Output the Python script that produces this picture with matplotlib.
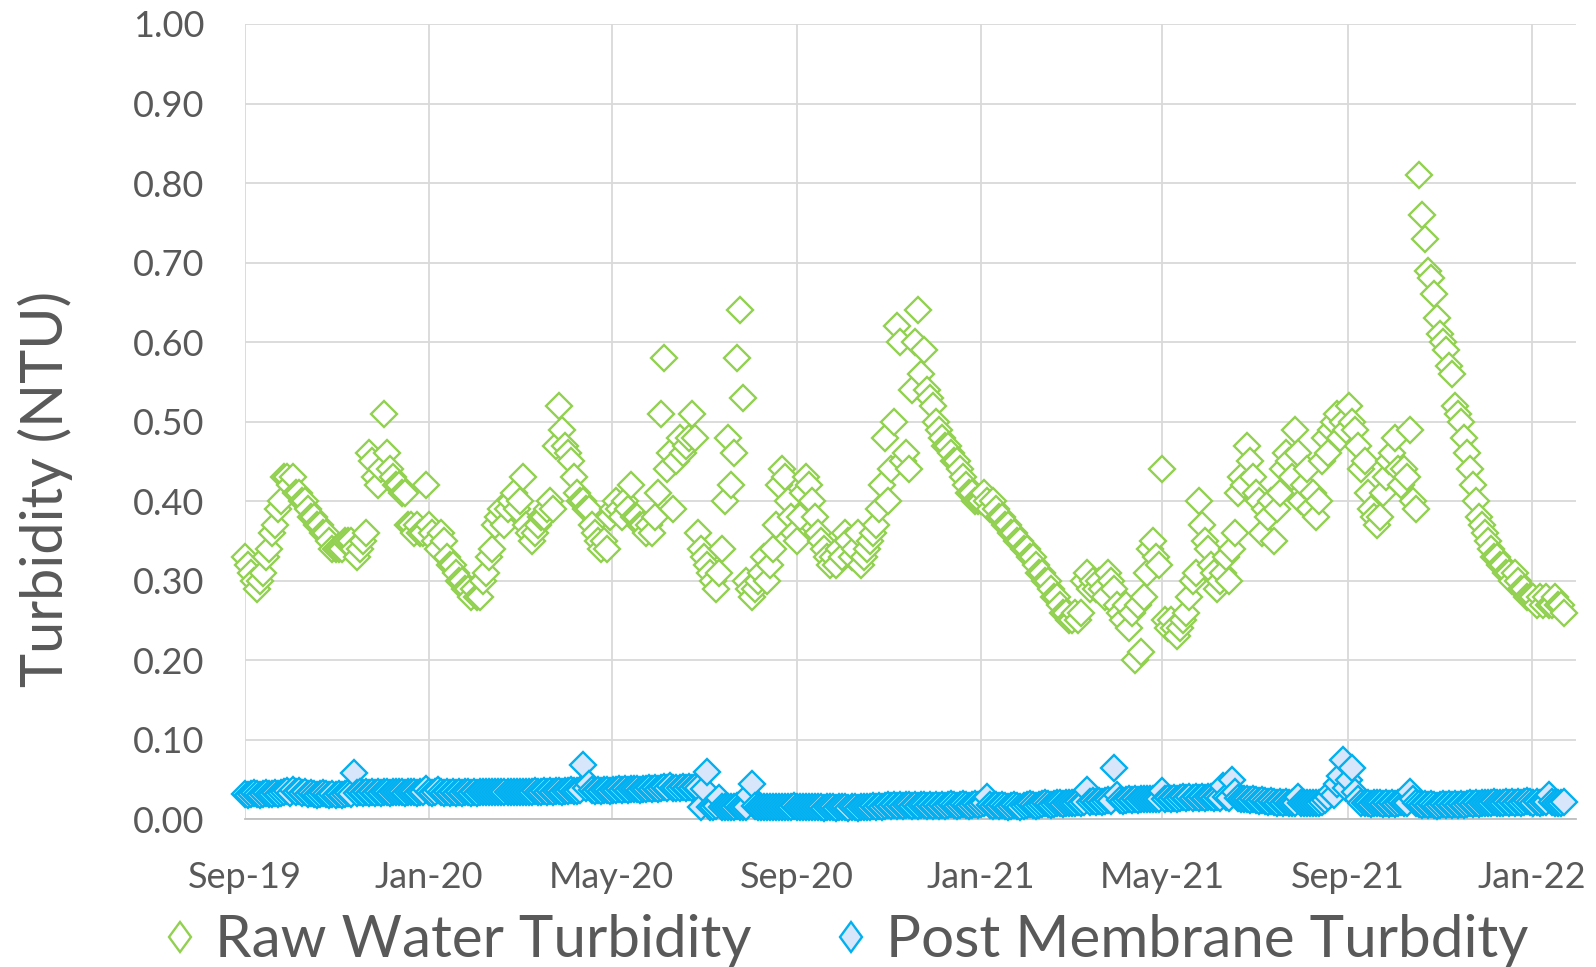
import matplotlib
matplotlib.use("Agg")
import matplotlib.pyplot as plt
import matplotlib.dates as mdates
from matplotlib.lines import Line2D
from matplotlib.markers import MarkerStyle
from matplotlib.transforms import Affine2D
import pandas as pd

plt.rcParams['font.family'] = ['Lato', 'DejaVu Sans']

# sampling: every 2 days starting 2019-09-01
start_date = "2019-09-01"
step = "2D"

raw_water = [
    0.33, 0.32, 0.31, 0.30, 0.29, 0.30, 0.31, 0.33, 0.34, 0.36,
    0.37, 0.39, 0.40, 0.43, 0.43, 0.42, 0.43, 0.41, 0.41, 0.40,
    0.40, 0.39, 0.38, 0.38, 0.37, 0.37, 0.36, 0.36, 0.35, 0.34,
    0.34, 0.34, 0.34, 0.35, 0.35, 0.35, 0.34, 0.33, 0.34, 0.35,
    0.36, 0.46, 0.45, 0.43, 0.42, 0.44, 0.51, 0.46, 0.44, 0.43,
    0.42, 0.42, 0.41, 0.41, 0.37, 0.37, 0.36, 0.37, 0.36, 0.36,
    0.42, 0.37, 0.36, 0.35, 0.34, 0.36, 0.35, 0.33, 0.32, 0.32,
    0.31, 0.30, 0.30, 0.29, 0.29, 0.28, 0.29, 0.28, 0.28, 0.30,
    0.31, 0.33, 0.34, 0.37, 0.38, 0.39, 0.37, 0.39, 0.40, 0.41,
    0.39, 0.40, 0.43, 0.37, 0.36, 0.35, 0.36, 0.37, 0.38, 0.38,
    0.39, 0.40, 0.39, 0.47, 0.52, 0.49, 0.47, 0.46, 0.45, 0.43,
    0.41, 0.40, 0.40, 0.39, 0.39, 0.37, 0.36, 0.35, 0.34, 0.35,
    0.34, 0.38, 0.39, 0.40, 0.39, 0.38, 0.40, 0.39, 0.42, 0.38,
    0.38, 0.37, 0.37, 0.36, 0.37, 0.36, 0.38, 0.41, 0.51, 0.58,
    0.44, 0.46, 0.39, 0.45, 0.48, 0.46, 0.47, 0.48, 0.51, 0.48,
    0.36, 0.34, 0.33, 0.32, 0.31, 0.30, 0.29, 0.31, 0.34, 0.40,
    0.48, 0.42, 0.46, 0.58, 0.64, 0.53, 0.30, 0.29, 0.28, 0.29,
    0.30, 0.31, 0.33, 0.30, 0.32, 0.34, 0.37, 0.42, 0.44, 0.43,
    0.40, 0.38, 0.36, 0.35, 0.38, 0.41, 0.43, 0.42, 0.40, 0.38,
    0.36, 0.35, 0.34, 0.33, 0.32, 0.33, 0.32, 0.34, 0.33, 0.36,
    0.35, 0.33, 0.34, 0.36, 0.32, 0.33, 0.34, 0.35, 0.36, 0.37,
    0.39, 0.42, 0.48, 0.40, 0.44, 0.50, 0.62, 0.60, 0.45, 0.46,
    0.44, 0.54, 0.60, 0.64, 0.56, 0.59, 0.54, 0.53, 0.52, 0.50,
    0.49, 0.48, 0.47, 0.47, 0.46, 0.45, 0.45, 0.44, 0.43, 0.42,
    0.41, 0.41, 0.40, 0.40, 0.40, 0.41, 0.40, 0.39, 0.40, 0.39,
    0.38, 0.38, 0.37, 0.37, 0.36, 0.36, 0.35, 0.35, 0.34, 0.34,
    0.33, 0.33, 0.32, 0.31, 0.31, 0.30, 0.30, 0.29, 0.28, 0.28,
    0.27, 0.26, 0.26, 0.25, 0.25, 0.26, 0.25, 0.26, 0.30, 0.31,
    0.29, 0.30, 0.29, 0.30, 0.29, 0.28, 0.31, 0.30, 0.29, 0.27,
    0.26, 0.25, 0.27, 0.24, 0.26, 0.20, 0.27, 0.21, 0.28, 0.31,
    0.34, 0.35, 0.33, 0.32, 0.44, 0.25, 0.24, 0.25, 0.24, 0.23,
    0.24, 0.25, 0.26, 0.28, 0.30, 0.31, 0.40, 0.37, 0.35, 0.34,
    0.32, 0.31, 0.29, 0.30, 0.31, 0.33, 0.30, 0.34, 0.36, 0.41,
    0.43, 0.42, 0.47, 0.45, 0.43, 0.41, 0.40, 0.36, 0.39, 0.38,
    0.40, 0.35, 0.39, 0.41, 0.44, 0.46, 0.45, 0.43, 0.49, 0.46,
    0.40, 0.42, 0.44, 0.39, 0.41, 0.38, 0.40, 0.45, 0.48, 0.46,
    0.49, 0.50, 0.51, 0.48, 0.50, 0.49, 0.52, 0.50, 0.49, 0.47,
    0.44, 0.45, 0.41, 0.39, 0.38, 0.37, 0.38, 0.41, 0.43, 0.45,
    0.46, 0.48, 0.44, 0.42, 0.44, 0.43, 0.49, 0.40, 0.39, 0.81,
    0.76, 0.73, 0.69, 0.68, 0.66, 0.63, 0.61, 0.60, 0.59, 0.57,
    0.56, 0.52, 0.51, 0.50, 0.48, 0.46, 0.44, 0.42, 0.40, 0.38,
    0.37, 0.36, 0.35, 0.34, 0.33, 0.33, 0.32, 0.32, 0.31, 0.31,
    0.30, 0.31, 0.30, 0.29, 0.29, 0.28, 0.28, 0.28, 0.27, 0.28,
    0.27, 0.28, 0.27, 0.27, 0.28, 0.27, 0.27, 0.26,
]

post_membrane = [
    0.032, 0.031, 0.032, 0.033, 0.032, 0.031, 0.032, 0.033, 0.032, 0.032,
    0.033, 0.032, 0.033, 0.034, 0.036, 0.033, 0.037, 0.034, 0.036, 0.033,
    0.035, 0.032, 0.033, 0.032, 0.031, 0.032, 0.033, 0.032, 0.031, 0.032,
    0.031, 0.032, 0.031, 0.032, 0.033, 0.032, 0.058, 0.033, 0.034, 0.033,
    0.034, 0.033, 0.034, 0.033, 0.034, 0.033, 0.034, 0.034, 0.033, 0.034,
    0.034, 0.035, 0.034, 0.033, 0.034, 0.035, 0.034, 0.033, 0.034, 0.035,
    0.038, 0.034, 0.033, 0.034, 0.037, 0.034, 0.033, 0.034, 0.033, 0.034,
    0.033, 0.034, 0.033, 0.034, 0.034, 0.033, 0.034, 0.033, 0.034, 0.034,
    0.034, 0.034, 0.035, 0.034, 0.034, 0.035, 0.034, 0.034, 0.035, 0.034,
    0.035, 0.034, 0.035, 0.035, 0.034, 0.035, 0.036, 0.035, 0.035, 0.036,
    0.035, 0.036, 0.035, 0.036, 0.036, 0.035, 0.036, 0.036, 0.037, 0.036,
    0.036, 0.037, 0.068, 0.040, 0.045, 0.037, 0.036, 0.037, 0.036, 0.037,
    0.037, 0.036, 0.037, 0.037, 0.038, 0.037, 0.038, 0.037, 0.038, 0.038,
    0.038, 0.037, 0.038, 0.038, 0.039, 0.038, 0.039, 0.038, 0.039, 0.041,
    0.040, 0.042, 0.040, 0.039, 0.040, 0.041, 0.040, 0.041, 0.040, 0.041,
    0.040, 0.016, 0.038, 0.060, 0.015, 0.016, 0.017, 0.027, 0.016, 0.015,
    0.016, 0.015, 0.016, 0.017, 0.016, 0.015, 0.016, 0.031, 0.045, 0.017,
    0.016, 0.015, 0.016, 0.015, 0.016, 0.016, 0.015, 0.016, 0.015, 0.016,
    0.015, 0.016, 0.017, 0.016, 0.015, 0.016, 0.016, 0.015, 0.016, 0.015,
    0.016, 0.015, 0.014, 0.015, 0.016, 0.015, 0.014, 0.015, 0.016, 0.015,
    0.014, 0.015, 0.015, 0.014, 0.015, 0.016, 0.015, 0.016, 0.017, 0.016,
    0.017, 0.016, 0.017, 0.018, 0.017, 0.018, 0.017, 0.018, 0.017, 0.018,
    0.018, 0.017, 0.018, 0.017, 0.018, 0.018, 0.017, 0.018, 0.017, 0.018,
    0.017, 0.018, 0.017, 0.018, 0.019, 0.018, 0.017, 0.018, 0.019, 0.018,
    0.017, 0.018, 0.019, 0.018, 0.019, 0.020, 0.028, 0.018, 0.017, 0.018,
    0.017, 0.018, 0.017, 0.016, 0.017, 0.018, 0.017, 0.016, 0.017, 0.018,
    0.019, 0.018, 0.017, 0.018, 0.019, 0.020, 0.019, 0.018, 0.019, 0.020,
    0.020, 0.019, 0.020, 0.021, 0.020, 0.021, 0.022, 0.021, 0.022, 0.037,
    0.022, 0.023, 0.022, 0.023, 0.022, 0.023, 0.024, 0.023, 0.065, 0.030,
    0.024, 0.023, 0.024, 0.025, 0.024, 0.025, 0.024, 0.025, 0.026, 0.025,
    0.026, 0.025, 0.026, 0.025, 0.036, 0.026, 0.027, 0.026, 0.027, 0.026,
    0.027, 0.028, 0.027, 0.028, 0.027, 0.028, 0.027, 0.028, 0.027, 0.028,
    0.028, 0.027, 0.028, 0.027, 0.042, 0.028, 0.027, 0.050, 0.034, 0.027,
    0.026, 0.025, 0.026, 0.024, 0.025, 0.024, 0.023, 0.024, 0.023, 0.022,
    0.023, 0.022, 0.021, 0.022, 0.021, 0.022, 0.021, 0.020, 0.021, 0.028,
    0.021, 0.020, 0.021, 0.020, 0.021, 0.020, 0.021, 0.022, 0.024, 0.028,
    0.035, 0.030, 0.045, 0.055, 0.075, 0.040, 0.050, 0.065, 0.035, 0.025,
    0.020, 0.021, 0.020, 0.019, 0.020, 0.021, 0.020, 0.019, 0.020, 0.019,
    0.020, 0.019, 0.020, 0.022, 0.021, 0.020, 0.035, 0.025, 0.020, 0.019,
    0.018, 0.019, 0.018, 0.019, 0.018, 0.017, 0.018, 0.019, 0.018, 0.019,
    0.018, 0.019, 0.018, 0.019, 0.018, 0.019, 0.020, 0.019, 0.020, 0.019,
    0.020, 0.021, 0.020, 0.021, 0.022, 0.021, 0.020, 0.021, 0.022, 0.021,
    0.022, 0.021, 0.022, 0.021, 0.022, 0.023, 0.022, 0.021, 0.022, 0.021,
    0.022, 0.022, 0.030, 0.022, 0.021, 0.020, 0.021, 0.022,
]

series_names = ["Raw Water Turbidity", "Post Membrane Turbdity"]
y_label = "Turbidity (NTU)"
y_ticks = [0.0, 0.1, 0.2, 0.3, 0.4, 0.5, 0.6, 0.7, 0.8, 0.9, 1.0]
x_min, x_max = "2019-09-01", "2022-01-30"

dates = pd.date_range(start=start_date, periods=len(raw_water), freq=step)

TEXT = "#595959"
GREEN = "#92D050"
BLUE = "#00B0F0"
BLUE_FILL = "#d7e6fa"

fig = plt.figure(figsize=(15.96, 9.67), dpi=100)
ax = fig.add_axes([0.1535, 0.1527, 0.8338, 0.8225])

ax.plot(dates, raw_water, ls="none", marker="D", ms=13, mfc="white",
        mec=GREEN, mew=1.7, clip_on=False, zorder=3)
ax.plot(dates, post_membrane, ls="none", marker="D", ms=13, mfc=BLUE_FILL,
        mec=BLUE, mew=1.7, clip_on=False, zorder=4)

ax.set_ylim(0, 1.0)
ax.set_xlim(pd.Timestamp(x_min), pd.Timestamp(x_max))
ax.set_yticks(y_ticks)
ax.yaxis.set_major_formatter(matplotlib.ticker.FormatStrFormatter("%.2f"))
ax.xaxis.set_major_locator(mdates.MonthLocator(bymonth=[1, 5, 9]))
ax.xaxis.set_major_formatter(mdates.DateFormatter("%b-%y"))

ax.grid(True, color="#d9d9d9", lw=1.3, zorder=0)
ax.set_axisbelow(True)
for s in ["top", "right", "left"]:
    ax.spines[s].set_visible(False)
ax.spines["bottom"].set_color("#bfbfbf")
ax.spines["bottom"].set_linewidth(1.3)

ax.tick_params(axis="both", length=0, labelsize=26, labelcolor=TEXT)
ax.tick_params(axis="y", pad=29)
ax.tick_params(axis="x", pad=30)

fig.text(0.0285, 0.494, y_label, rotation=90, ha="center", va="center",
         fontsize=41.5, color=TEXT)

leg_marker = MarkerStyle("D", transform=Affine2D().scale(0.78, 1.0))
handles = [
    Line2D([], [], ls="none", marker=leg_marker, ms=15, mfc="white", mec=GREEN, mew=1.7),
    Line2D([], [], ls="none", marker=leg_marker, ms=15, mfc=BLUE_FILL, mec=BLUE, mew=1.7),
]
fig.legend(handles, series_names, loc="center", bbox_to_anchor=(0.528, 0.027),
           ncol=2, frameon=False, fontsize=42, labelcolor=TEXT,
           handlelength=0.8, handletextpad=0.2, columnspacing=1.3,
           borderpad=0, borderaxespad=0)

fig.savefig("out.png", dpi=100, facecolor="white")
